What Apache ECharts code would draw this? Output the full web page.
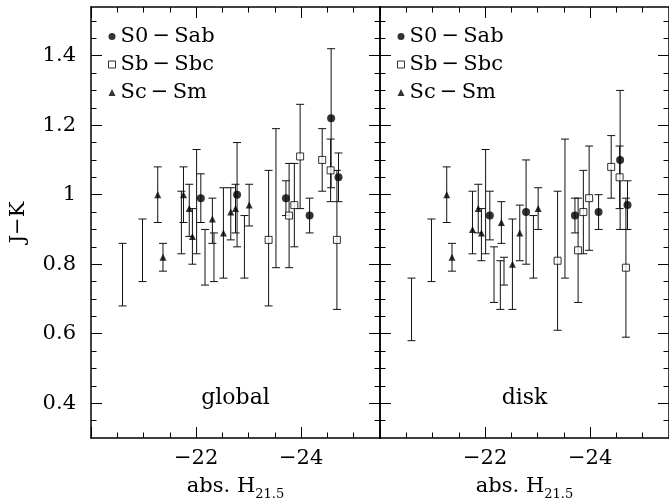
<!DOCTYPE html>
<html>
<head>
<meta charset="utf-8">
<script src="https://cdn.jsdelivr.net/npm/echarts@6/dist/echarts.min.js"></script>
<style>
  html, body { margin: 0; padding: 0; background: #fff; }
  #chart { width: 669px; height: 501px; }
</style>
</head>
<body>
<div id="chart"></div>
<script>
// Morphological classes shown in the legend
const typeNames = ['S0\u2009−\u2009Sab', 'Sb\u2009−\u2009Sbc', 'Sc\u2009−\u2009Sm'];
const panelNames = ['global', 'disk'];

// Axis ticks
const xTickLabels = [-22, -24];
const xMajorTicks = [-24, -22, -20];
const xMinorTicks = [-25, -24.5, -23.5, -23, -22.5, -21.5, -21, -20.5];
const yTickLabels = [0.4, 0.6, 0.8, 1, 1.2, 1.4];
const yMinorTicks = [0.35, 0.45, 0.5, 0.55, 0.65, 0.7, 0.75, 0.85, 0.9, 0.95,
                     1.05, 1.1, 1.15, 1.25, 1.3, 1.35, 1.45, 1.5];

// Global colours: [abs. H21.5, J−K, lower, upper]
const globalS0 = [
  [-22.09, 0.99, 0.92, 1.06],
  [-22.78, 1.00, 0.85, 1.15],
  [-23.71, 0.99, 0.94, 1.04],
  [-24.16, 0.94, 0.89, 0.99],
  [-24.57, 1.22, 1.02, 1.42],
  [-24.71, 1.05, 0.98, 1.12]
];
const globalSb = [
  [-23.38, 0.87, 0.68, 1.07],
  [-23.77, 0.94, 0.79, 1.09],
  [-23.87, 0.97, 0.85, 1.09],
  [-23.98, 1.11, 0.96, 1.26],
  [-24.40, 1.10, 1.01, 1.19],
  [-24.56, 1.07, 0.98, 1.16],
  [-24.68, 0.87, 0.67, 1.07]
];
const globalSc = [
  [-21.27, 1.00, 0.92, 1.08],
  [-21.37, 0.82, 0.78, 0.86],
  [-21.76, 1.00, 0.92, 1.08],
  [-21.87, 0.96, 0.88, 1.03],
  [-21.93, 0.88, 0.80, 0.96],
  [-22.31, 0.93, 0.86, 0.99],
  [-22.52, 0.89, 0.76, 1.02],
  [-22.66, 0.95, 0.87, 1.02],
  [-22.75, 0.96, 0.89, 1.03],
  [-23.01, 0.97, 0.91, 1.03]
];
// Galaxies without a type symbol: [abs. H21.5, lower, upper]
const globalNoType = [
  [-20.60, 0.68, 0.86],
  [-20.98, 0.75, 0.93],
  [-21.72, 0.83, 1.01],
  [-22.01, 0.83, 1.13],
  [-22.17, 0.74, 0.90],
  [-22.34, 0.75, 0.89],
  [-22.92, 0.76, 0.94],
  [-23.52, 0.79, 1.19]
];

// Disk colours
const diskS0 = [
  [-22.09, 0.94, 0.87, 1.01],
  [-22.78, 0.95, 0.80, 1.10],
  [-23.71, 0.94, 0.89, 0.99],
  [-24.16, 0.95, 0.90, 1.00],
  [-24.57, 1.10, 0.90, 1.30],
  [-24.71, 0.97, 0.90, 1.04]
];
const diskSb = [
  [-23.38, 0.81, 0.61, 1.01],
  [-23.77, 0.84, 0.69, 0.99],
  [-23.87, 0.95, 0.83, 1.07],
  [-23.98, 0.99, 0.84, 1.14],
  [-24.40, 1.08, 0.99, 1.17],
  [-24.56, 1.05, 0.96, 1.14],
  [-24.68, 0.79, 0.59, 0.99]
];
const diskSc = [
  [-21.27, 1.00, 0.92, 1.08],
  [-21.37, 0.82, 0.78, 0.86],
  [-21.76, 0.90, 0.83, 1.01],
  [-21.87, 0.96, 0.89, 1.03],
  [-21.93, 0.89, 0.81, 0.96],
  [-22.31, 0.92, 0.86, 0.98],
  [-22.52, 0.80, 0.67, 0.93],
  [-22.66, 0.89, 0.81, 0.97],
  [-23.01, 0.96, 0.90, 1.02]
];
const diskNoType = [
  [-20.60, 0.58, 0.76],
  [-20.98, 0.75, 0.93],
  [-22.01, 0.83, 1.13],
  [-22.17, 0.69, 0.85],
  [-22.29, 0.67, 0.81],
  [-22.36, 0.74, 0.82],
  [-22.92, 0.76, 0.94],
  [-23.52, 0.76, 1.16]
];

const FONT = 'DejaVu Serif';
const INK = '#000';
const FS = 21;

const panels = [
  { label: panelNames[0], s0: globalS0, sb: globalSb, sc: globalSc, other: globalNoType, left: 91 },
  { label: panelNames[1], s0: diskS0, sb: diskSb, sc: diskSc, other: diskNoType, left: 380 }
];
const PANEL_W = 289, TOP = 7, PANEL_H = 431;

// Fixed plot boxes; labels may sit close to the canvas edge
const grid = panels.map(p => ({
  left: p.left, top: TOP, width: PANEL_W, height: PANEL_H,
  containLabel: false, outerBoundsMode: 'none'
}));

const tickLine = { color: INK, width: 1 };
const frameLine = { show: true, lineStyle: { color: INK, width: 1.5 } };

const xAxis = [];
const yAxis = [];
panels.forEach((p, g) => {
  const xb = { gridIndex: g, type: 'value', min: -25.5, max: -20, inverse: true,
    splitLine: { show: false }, axisLabel: { show: false }, axisLine: { show: false },
    axisTick: { show: false } };
  xAxis.push({
    ...xb, position: 'bottom', axisLine: frameLine,
    axisTick: { show: true, inside: true, length: 11, customValues: xMajorTicks, lineStyle: tickLine },
    axisLabel: { show: true, customValues: xTickLabels, formatter: v => '−' + Math.abs(v),
      color: INK, fontFamily: FONT, fontSize: FS, margin: 10 },
    name: '{a|abs. H}{b|21.5}', nameLocation: 'middle', nameGap: 35,
    nameTextStyle: { color: INK, fontFamily: FONT, fontSize: FS,
      rich: { a: { color: INK, fontFamily: FONT, fontSize: FS },
              b: { color: INK, fontFamily: FONT, fontSize: 13, padding: [15, 0, 0, 0] } } }
  });
  xAxis.push({ ...xb, position: 'bottom',
    axisTick: { show: true, inside: true, length: 5.5, customValues: xMinorTicks, lineStyle: tickLine } });
  xAxis.push({ ...xb, position: 'top', axisLine: frameLine,
    axisTick: { show: true, inside: true, length: 11, customValues: xMajorTicks, lineStyle: tickLine } });
  xAxis.push({ ...xb, position: 'top',
    axisTick: { show: true, inside: true, length: 5.5, customValues: xMinorTicks, lineStyle: tickLine } });

  const yb = { gridIndex: g, type: 'value', min: 0.3, max: 1.54,
    splitLine: { show: false }, axisLabel: { show: false }, axisLine: { show: false },
    axisTick: { show: false } };
  const yMain = { ...yb, position: 'left', axisLine: frameLine,
    axisTick: { show: true, inside: true, length: 11, customValues: yTickLabels, lineStyle: tickLine } };
  if (g === 0) {
    yMain.axisLabel = { show: true, customValues: yTickLabels, color: INK, fontFamily: FONT,
      fontSize: FS, margin: 15 };
    yMain.name = 'J−K';
    yMain.nameLocation = 'middle';
    yMain.nameGap = 62;
    yMain.nameTextStyle = { color: INK, fontFamily: FONT, fontSize: FS };
  }
  yAxis.push(yMain);
  yAxis.push({ ...yb, position: 'left',
    axisTick: { show: true, inside: true, length: 5.5, customValues: yMinorTicks, lineStyle: tickLine } });
  yAxis.push({ ...yb, position: 'right', axisLine: frameLine,
    axisTick: { show: true, inside: true, length: 11, customValues: yTickLabels, lineStyle: tickLine } });
  yAxis.push({ ...yb, position: 'right',
    axisTick: { show: true, inside: true, length: 5.5, customValues: yMinorTicks, lineStyle: tickLine } });
});

// Vertical error bars with short caps
function errorBarSeries(rows, g) {
  return {
    type: 'custom', xAxisIndex: g * 4, yAxisIndex: g * 4, silent: true, z: 2,
    data: rows,
    encode: { x: 0, y: [1, 2] },
    renderItem: (params, api) => {
      const lo = api.coord([api.value(0), api.value(1)]);
      const hi = api.coord([api.value(0), api.value(2)]);
      const w = 4;
      const st = { stroke: '#111', lineWidth: 1 };
      return { type: 'group', children: [
        { type: 'line', shape: { x1: lo[0], y1: lo[1], x2: hi[0], y2: hi[1] }, style: st },
        { type: 'line', shape: { x1: lo[0] - w, y1: lo[1], x2: lo[0] + w, y2: lo[1] }, style: st },
        { type: 'line', shape: { x1: hi[0] - w, y1: hi[1], x2: hi[0] + w, y2: hi[1] }, style: st }
      ] };
    }
  };
}

const series = [];
panels.forEach((p, g) => {
  const bars = [].concat(
    p.s0.map(d => [d[0], d[2], d[3]]),
    p.sb.map(d => [d[0], d[2], d[3]]),
    p.sc.map(d => [d[0], d[2], d[3]]),
    p.other
  );
  series.push(errorBarSeries(bars, g));
  series.push({ type: 'scatter', name: typeNames[0], xAxisIndex: g * 4, yAxisIndex: g * 4,
    data: p.s0.map(d => [d[0], d[1]]), symbol: 'circle', symbolSize: 8,
    itemStyle: { color: INK }, z: 4, silent: true });
  series.push({ type: 'scatter', name: typeNames[1], xAxisIndex: g * 4, yAxisIndex: g * 4,
    data: p.sb.map(d => [d[0], d[1]]), symbol: 'rect', symbolSize: 7,
    itemStyle: { color: '#fff', borderColor: INK, borderWidth: 1 }, z: 4, silent: true });
  series.push({ type: 'scatter', name: typeNames[2], xAxisIndex: g * 4, yAxisIndex: g * 4,
    data: p.sc.map(d => [d[0], d[1]]), symbol: 'triangle', symbolSize: 7,
    itemStyle: { color: INK }, z: 4, silent: true });
});

const legend = panels.map(p => ({
  orient: 'vertical', left: p.left + 12, top: 21, itemWidth: 7, itemHeight: 7, itemGap: 7,
  selectedMode: false,
  textStyle: { color: INK, fontFamily: FONT, fontSize: FS },
  data: [
    { name: typeNames[0], icon: 'circle', itemStyle: { color: INK } },
    { name: typeNames[1], icon: 'rect', itemStyle: { color: '#fff', borderColor: INK, borderWidth: 1 } },
    { name: typeNames[2], icon: 'triangle', itemStyle: { color: INK } }
  ]
}));

const graphic = panels.map(p => ({
  type: 'text', x: p.left + PANEL_W / 2, y: 398, silent: true,
  style: { text: p.label, fill: INK, font: '22px "' + FONT + '"', align: 'center', verticalAlign: 'middle' }
}));

const chart = echarts.init(document.getElementById('chart'), null, { renderer: 'canvas' });
chart.setOption({
  animation: false,
  backgroundColor: '#fff',
  grid, xAxis, yAxis, series, legend, graphic
});
</script>
</body>
</html>
